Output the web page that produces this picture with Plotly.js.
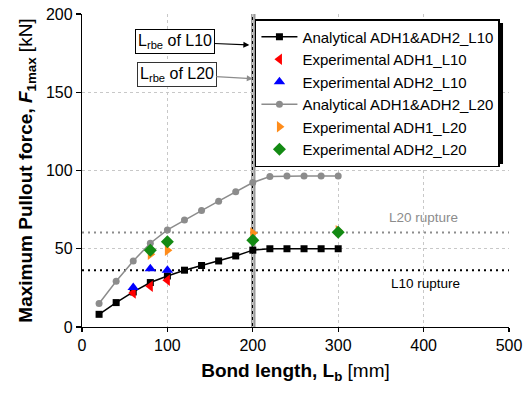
<!DOCTYPE html>
<html>
<head>
<meta charset="utf-8">
<script src="https://cdn.plot.ly/plotly-3.0.1.min.js"></script>
<style>html,body{margin:0;padding:0;background:#fff;}#chart{width:528px;height:396px;}</style>
</head>
<body>
<div id="chart"></div>
<script>
// ---- data ----
var bondLength = [20, 40, 60, 80, 100, 120, 140, 160, 180, 200, 220, 240, 260, 280, 300];
var analyticalL10 = [8.1, 15.6, 22.4, 28.4, 32.6, 36.3, 39.3, 42.2, 45.4, 49.1, 50.0, 50.0, 50.0, 50.0, 50.0];
var analyticalL20 = [15.0, 29.2, 42.2, 53.5, 62.0, 68.4, 74.4, 80.4, 86.4, 92.3, 96.2, 96.5, 96.5, 96.5, 96.5];

var expL10Lb = [60, 80, 100];
var expADH1_L10 = [21.8, 26.0, 29.9];
var expADH2_L10 = [25.2, 37.3, 36.3];

var expL20Lb = [80, 100, 200, 300];
var expADH1_L20 = [46.5, 49.0, 60.0, 61.5];
var expADH2_L20 = [49.0, 54.5, 55.5, 60.5];

var lrbeL10 = 199.5;   // effective bond length L10
var lrbeL20 = 202;     // effective bond length L20
var ruptureL10 = 36.3; // rupture force L10
var ruptureL20 = 60.4; // rupture force L20

var xTicks = [0, 100, 200, 300, 400, 500];
var yTicks = [0, 50, 100, 150, 200];

var FONT = '"Liberation Sans", Arial, sans-serif';

var traces = [
  {x: bondLength, y: analyticalL10, name: 'Analytical ADH1&ADH2_L10', mode: 'lines+markers',
   line: {color: '#000000', width: 1.5}, marker: {symbol: 'square', size: 7, color: '#000000'}},
  {x: expL10Lb, y: expADH1_L10, name: 'Experimental ADH1_L10', mode: 'markers',
   marker: {symbol: 'triangle-left', size: 10, color: '#ff0000'}},
  {x: expL10Lb, y: expADH2_L10, name: 'Experimental ADH2_L10', mode: 'markers',
   marker: {symbol: 'triangle-up', size: 10, color: '#0000ff'}},
  {x: bondLength, y: analyticalL20, name: 'Analytical ADH1&ADH2_L20', mode: 'lines+markers',
   line: {color: '#8c8c8c', width: 1.5}, marker: {symbol: 'circle', size: 7, color: '#8c8c8c'}},
  {x: expL20Lb, y: expADH1_L20, name: 'Experimental ADH1_L20', mode: 'markers',
   marker: {symbol: 'triangle-right', size: 10, color: '#ff8c1a'}},
  {x: expL20Lb, y: expADH2_L20, name: 'Experimental ADH2_L20', mode: 'markers',
   marker: {symbol: 'diamond', size: 10, color: '#138a13'}}
];

var layout = {
  width: 528, height: 396,
  margin: {l: 82, r: 19, t: 14, b: 69},
  paper_bgcolor: '#ffffff', plot_bgcolor: '#ffffff',
  font: {family: FONT, color: '#000000', size: 16},
  showlegend: true,
  xaxis: {
    range: [0, 500], tickvals: xTicks, ticktext: xTicks.map(String),
    showline: true, linecolor: '#000', linewidth: 1.2, zeroline: false,
    ticks: 'outside', ticklen: 4, tickwidth: 1.2, tickcolor: '#000',
    showgrid: true, gridcolor: '#c8c8c8', griddash: 'dot', gridwidth: 1,
    tickfont: {size: 16, family: FONT},
    title: {text: '<b>Bond length, L<sub>b</sub></b> [mm]', font: {size: 19, family: FONT}, standoff: 10}
  },
  yaxis: {
    range: [0, 200], tickvals: yTicks, ticktext: yTicks.map(String),
    showline: true, linecolor: '#000', linewidth: 1.2, zeroline: false,
    ticks: 'outside', ticklen: 5, tickwidth: 1.2, tickcolor: '#000',
    showgrid: true, gridcolor: '#c8c8c8', griddash: 'dot', gridwidth: 1,
    tickfont: {size: 16, family: FONT},
    title: {text: '<b>Maximum Pullout force, <i>F</i><sub>1max</sub></b> [kN]', font: {size: 19, family: FONT}, standoff: 8}
  },
  xaxis2: {
    overlaying: 'x', anchor: 'y', side: 'bottom', range: [0, 500], tickvals: xTicks,
    showticklabels: false, showgrid: false, zeroline: false,
    showline: true, linecolor: '#000', linewidth: 1.2, mirror: 'ticks',
    ticks: 'inside', ticklen: 4, tickwidth: 1.2, tickcolor: '#000',
    minor: {tickvals: [50, 150, 250, 350, 450], ticks: 'inside', ticklen: 3, tickcolor: '#000', tickwidth: 1.2, showgrid: false}
  },
  yaxis2: {
    overlaying: 'y', anchor: 'x', side: 'left', range: [0, 200], tickvals: yTicks,
    showticklabels: false, showgrid: false, zeroline: false,
    showline: true, linecolor: '#000', linewidth: 1.2, mirror: 'ticks',
    ticks: 'inside', ticklen: 4, tickwidth: 1.2, tickcolor: '#000',
    minor: {tickvals: [25, 75, 125, 175], ticks: 'inside', ticklen: 3, tickcolor: '#000', tickwidth: 1.2, showgrid: false}
  },
  legend: {
    x: 0.405, y: 0.984, xanchor: 'left', yanchor: 'top',
    bgcolor: '#ffffff', bordercolor: '#000000', borderwidth: 1.5,
    font: {size: 15, family: FONT}, itemwidth: 36, tracegroupgap: 0
  },
  shapes: [
    {type: 'line', xref: 'x', yref: 'y', x0: 0, x1: 500, y0: ruptureL20, y1: ruptureL20,
     line: {color: '#8c8c8c', width: 2, dash: '2px,4px'}, layer: 'below'},
    {type: 'line', xref: 'x', yref: 'y', x0: 0, x1: 500, y0: ruptureL10, y1: ruptureL10,
     line: {color: '#000000', width: 2, dash: '2px,4px'}, layer: 'below'},
    {type: 'line', xref: 'x', yref: 'y', x0: lrbeL20, x1: lrbeL20, y0: 0, y1: 200,
     line: {color: '#999999', width: 2}, layer: 'below'},
    {type: 'line', xref: 'x', yref: 'y', x0: lrbeL10, x1: lrbeL10, y0: 0, y1: 200,
     line: {color: '#000000', width: 1.5}, layer: 'below'},
    // legend shadow
    {type: 'rect', xref: 'paper', yref: 'paper', x0: 0.4145, x1: 0.986, y0: 0.521, y1: 0.971,
     fillcolor: '#000000', line: {width: 0}, layer: 'above'}
  ],
  annotations: [
    {x: 400, y: 70, xref: 'x', yref: 'y', text: 'L20 rupture', showarrow: false,
     font: {size: 13.5, color: '#8c8c8c', family: FONT}},
    {x: 402, y: 27.8, xref: 'x', yref: 'y', text: 'L10 rupture', showarrow: false,
     font: {size: 13.5, color: '#000000', family: FONT}},
    {x: 196, y: 180.2, xref: 'x', yref: 'y', text: 'L<sub>rbe</sub> of L10',
     showarrow: true, ax: -74.5, ay: -3.2, arrowhead: 2, arrowsize: 1, arrowwidth: 1.2, arrowcolor: '#000',
     bgcolor: '#ffffff', bordercolor: '#000000', borderwidth: 1, borderpad: 2,
     font: {size: 16, family: FONT, color: '#000'}},
    {x: 200, y: 158.7, xref: 'x', yref: 'y', text: 'L<sub>rbe</sub> of L20',
     showarrow: true, ax: -76, ay: -4, arrowhead: 2, arrowsize: 1, arrowwidth: 1.2, arrowcolor: '#8c8c8c',
     bgcolor: '#ffffff', bordercolor: '#333333', borderwidth: 1, borderpad: 2,
     font: {size: 16, family: FONT, color: '#000'}}
  ]
};

Plotly.newPlot('chart', traces, layout, {displayModeBar: false, staticPlot: true});
</script>
</body>
</html>
